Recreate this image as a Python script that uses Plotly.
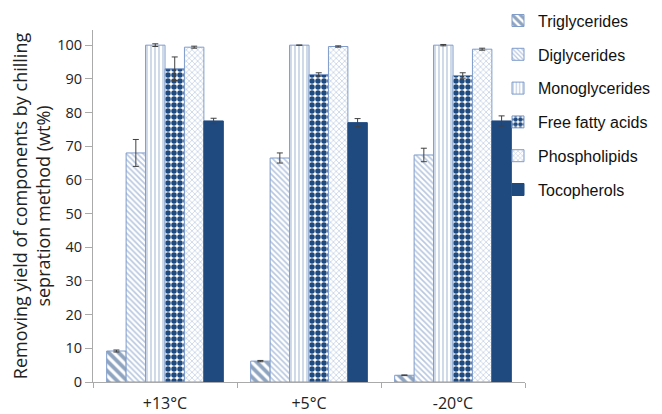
import plotly.graph_objects as go

categories = ["+13°C", "+5°C", "-20°C"]
series_names = ["Triglycerides", "Diglycerides", "Monoglycerides", "Free fatty acids", "Phospholipids", "Tocopherols"]
triglycerides = [9.2, 6.2, 2.0]
triglycerides_err = [0.3, 0.2, 0.1]
diglycerides = [68.0, 66.5, 67.4]
diglycerides_err = [4.0, 1.5, 2.0]
monoglycerides = [100.0, 100.0, 100.0]
monoglycerides_err = [0.4, 0.0, 0.2]
free_fatty_acids = [93.0, 91.3, 91.0]
free_fatty_acids_err = [3.5, 0.5, 0.8]
phospholipids = [99.4, 99.6, 98.8]
phospholipids_err = [0.3, 0.2, 0.3]
tocopherols = [77.5, 77.0, 77.5]
tocopherols_err = [0.8, 1.2, 1.5]

values = [triglycerides, diglycerides, monoglycerides, free_fatty_acids, phospholipids, tocopherols]
errors = [triglycerides_err, diglycerides_err, monoglycerides_err, free_fatty_acids_err, phospholipids_err, tocopherols_err]

dark = "#1f4a7f"
outline = "#7f9ccb"
styles = [
    dict(color="white", line=dict(color=outline, width=1),
         pattern=dict(shape="\\", fgcolor=dark, bgcolor="white", size=7, solidity=0.55)),
    dict(color="white", line=dict(color=outline, width=1),
         pattern=dict(shape="\\", fgcolor="#6f8fbf", bgcolor="white", size=4, solidity=0.4)),
    dict(color="white", line=dict(color=outline, width=1),
         pattern=dict(shape="|", fgcolor="#5f83b5", bgcolor="white", size=4, solidity=0.3)),
    dict(color="white", line=dict(color=outline, width=1),
         pattern=dict(shape=".", fgcolor=dark, bgcolor="white", fgopacity=1, size=6, solidity=0.65)),
    dict(color="white", line=dict(color=outline, width=1),
         pattern=dict(shape="x", fgcolor="#6f8fbf", bgcolor="white", size=4, solidity=0.3)),
    dict(color=dark, line=dict(color=dark, width=1)),
]

fig = go.Figure()
for i, (name, v, e) in enumerate(zip(series_names, values, errors)):
    fig.add_trace(go.Bar(
        name=name, x=categories, y=v, legendgroup=name,
        marker=styles[i],
        error_y=dict(type="data", array=e, visible=True, color="#404040", thickness=1, width=3),
    ))

fig.update_layout(
    width=654, height=406,
    margin=dict(l=85, r=137, t=22, b=32, autoexpand=False),
    paper_bgcolor="white", plot_bgcolor="white",
    barmode="group", bargap=0.19, bargroupgap=0,
    font=dict(family="Open Sans", size=13, color="#222"),
    legend=dict(x=0.9375, xanchor="left", y=1.075, yanchor="top",
                font=dict(family="Arial", size=16, color="#111"),
                tracegroupgap=10, bgcolor="rgba(0,0,0,0)"),
    xaxis=dict(showline=True, linecolor="#aaaaaa", ticks="outside", tickson="boundaries",
               ticklen=5, tickcolor="#aaaaaa", showgrid=False, automargin=False,
               ticklabelstandoff=7,
               tickfont=dict(family="Open Sans", size=16)),
    yaxis=dict(range=[0, 104.5], tickvals=list(range(0, 101, 10)), showline=True,
               linecolor="#aaaaaa", ticks="outside", ticklen=7, tickcolor="#aaaaaa",
               showgrid=False, zeroline=False, automargin=False,
               tickfont=dict(family="Open Sans", size=14.5),
               title=dict(text="Removing yield of components by chilling<br>sepration method (wt%)",
                          font=dict(family="Open Sans", size=18), standoff=8)),
)

fig.write_html("out.html")
